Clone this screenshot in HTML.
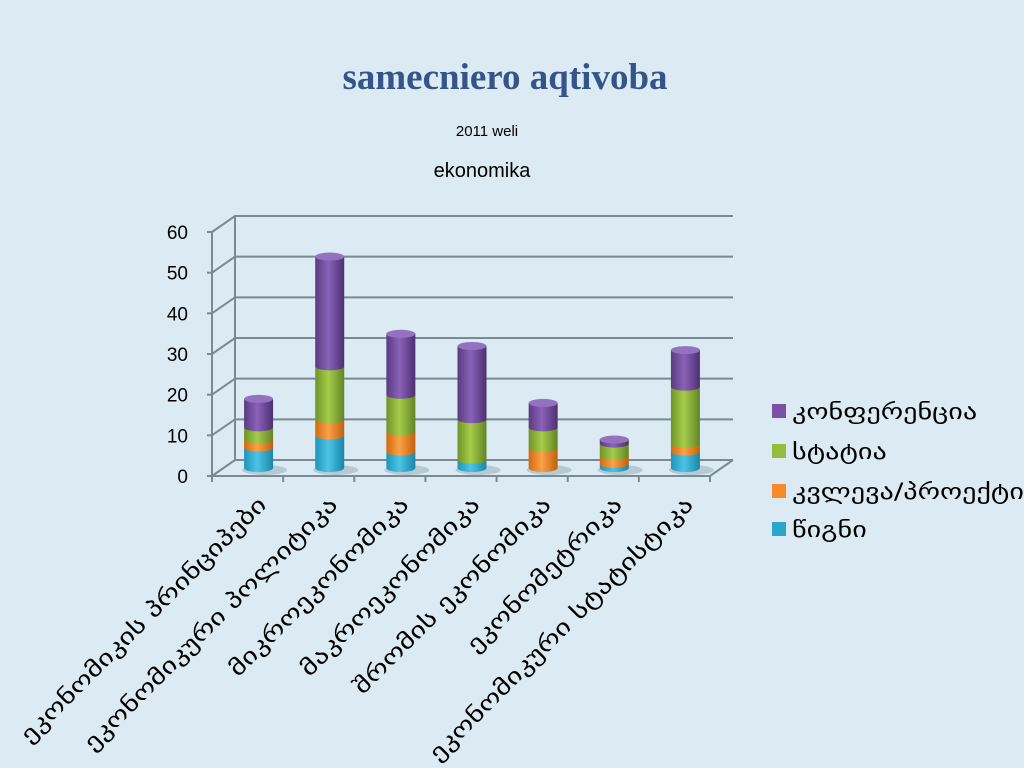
<!DOCTYPE html>
<html><head><meta charset="utf-8"><style>
body{margin:0;background:#dbeaf3;}
svg{display:block;font-family:"Liberation Sans","DejaVu Sans",sans-serif;}
</style></head><body>
<svg width="1024" height="768">
<defs>
<linearGradient id="gP" x1="0" x2="1"><stop offset="0" stop-color="#5a3a80"/><stop offset=".45" stop-color="#8a62b8"/><stop offset="1" stop-color="#4e2f72"/></linearGradient>
<linearGradient id="gG" x1="0" x2="1"><stop offset="0" stop-color="#6f9428"/><stop offset=".45" stop-color="#a6cc4a"/><stop offset="1" stop-color="#628424"/></linearGradient>
<linearGradient id="gO" x1="0" x2="1"><stop offset="0" stop-color="#d06a10"/><stop offset=".45" stop-color="#fba248"/><stop offset="1" stop-color="#c0600c"/></linearGradient>
<linearGradient id="gB" x1="0" x2="1"><stop offset="0" stop-color="#1f95b8"/><stop offset=".45" stop-color="#4cc4e6"/><stop offset="1" stop-color="#1a86a8"/></linearGradient>
</defs>
<rect width="1024" height="768" fill="#dbeaf3"/>
<text x="505" y="89" text-anchor="middle" font-family="Liberation Serif,serif" font-weight="bold" font-size="37" fill="#34558a">samecniero aqtivoba</text>
<text x="487" y="136" text-anchor="middle" font-size="15" fill="#000">2011 weli</text>
<text x="482" y="177" text-anchor="middle" font-size="20" fill="#000">ekonomika</text>
<g id="axes"></g>
<g id="bars"></g>
<g id="legend"></g>
</svg>
<script>
const categories=["ეკონომიკის პრინციპები","ეკონომიკური პოლიტიკა","მიკროეკონომიკა","მაკროეკონომიკა","შრომის ეკონომიკა","ეკონომეტრიკა","ეკონომიკური სტატისტიკა"];
const seriesNames=["წიგნი","კვლევა/პროექტი","სტატია","კონფერენცია"];
const wigni=[5,8,4,2,0,1,4];
const kvleva=[2,4,5,0,5,2,2];
const statia=[3,13,9,10,5,3,14];
const konf=[7,27,15,18,6,1,9];
const yTicks=[0,10,20,30,40,50,60];
const NS="http://www.w3.org/2000/svg";
const x0=212,x1=710,yF0=476,yMax=60,ppu=(476-232)/60,dx=23,dy=-16;
function yF(v){return yF0-v*ppu;}
function cx(i){return x0+(x1-x0)/categories.length*(i+0.5);}
function mk(t,a,p){const e=document.createElementNS(NS,t);for(const k in a)e.setAttribute(k,a[k]);p.appendChild(e);return e;}
function stretch(t,f){const L=t.getComputedTextLength();t.setAttribute('textLength',L*f);t.setAttribute('lengthAdjust','spacingAndGlyphs');}
const ax=document.getElementById('axes');
const gc="#7a8a90";
yTicks.forEach(v=>{
 const y=yF(v);
 const g=mk('g',{},ax);
 
 
 mk('polyline',{points:`${x0},${y} ${x0+dx},${y+dy} ${x1+dx},${y+dy}`,fill:'none',stroke:gc,'stroke-width':2},g);
 mk('line',{x1:x0-5,y1:y,x2:x0,y2:y,stroke:gc,'stroke-width':2},g);
 const t=mk('text',{x:x0-24,y:y+7,'text-anchor':'end','font-size':19,fill:'#000'},ax);
 t.textContent=v;
 
 
});
mk('line',{x1:x0,y1:yF(0),x2:x0,y2:yF(yMax),stroke:gc,'stroke-width':2},ax);
mk('line',{x1:x0+dx,y1:yF(0)+dy,x2:x0+dx,y2:yF(yMax)+dy,stroke:gc,'stroke-width':2},ax);
mk('polyline',{points:`${x0},${yF(0)} ${x1},${yF(0)} ${x1+dx},${yF(0)+dy}`,fill:'none',stroke:gc,'stroke-width':2},ax);
for(let i=0;i<=categories.length;i++){const x=x0+(x1-x0)/categories.length*i;mk('line',{x1:x,y1:yF(0),x2:x,y2:yF(0)+6,stroke:gc,'stroke-width':2},ax);}
categories.forEach((c,i)=>{
 const x=cx(i)+20,y=506;
 const t=mk('text',{x:x,y:y,'text-anchor':'end','font-size':22,fill:'#000',transform:`rotate(-45 ${x} ${y})`,'font-family':'DejaVu Sans,sans-serif'},ax);
 t.textContent=c;
 
 
 stretch(t,1.33);
});
const bg=document.getElementById('bars');
const series=[wigni,kvleva,statia,konf];
const fills=['url(#gB)','url(#gO)','url(#gG)','url(#gP)'];
const tops=['#5fd0ee','#fdb060','#b5da60','#9572c0'];
const rx=14.5,ry=4,base=8;
categories.forEach((c,i)=>{
 const x=cx(i)+11;
 const g=mk('g',{},bg);
 
 
 mk('ellipse',{cx:x+6,cy:yF0-base+2,rx:rx+8,ry:5,fill:'#9fb4bf',opacity:.6},g);
 let acc=0;
 series.forEach((s,k)=>{
  const v=s[i]; if(v<=0)return;
  const yb=yF(acc)-base, yt=yF(acc+v)-base;
  const p=mk('path',{d:`M${x-rx},${yt} L${x-rx},${yb} A${rx},${ry} 0 0 0 ${x+rx},${yb} L${x+rx},${yt} Z`,fill:fills[k]},g);
  
  
  acc+=v;
 });
 const last=series.map(s=>s[i]);let top=3;for(let k=3;k>=0;k--){if(last[k]>0){top=k;break;}}
 mk('ellipse',{cx:x,cy:yF(acc)-base,rx:rx,ry:ry,fill:tops[top]},g);
});
const lg=document.getElementById('legend');
const lfill=['#2aa6cc','#f58a26','#93bd3a','#7a50a8'];
const ly=[530,492,452,412];
seriesNames.forEach((n,k)=>{
 const g=mk('g',{},lg);
 
 
 mk('rect',{x:772,y:ly[k]-8,width:14,height:14,fill:lfill[k]},g);
 const t=mk('text',{x:792,y:ly[k]+7,'font-size':22,fill:'#000','font-family':'DejaVu Sans,sans-serif'},g);
 t.textContent=n;
 stretch(t,1.28);
});
</script>
</body></html>
